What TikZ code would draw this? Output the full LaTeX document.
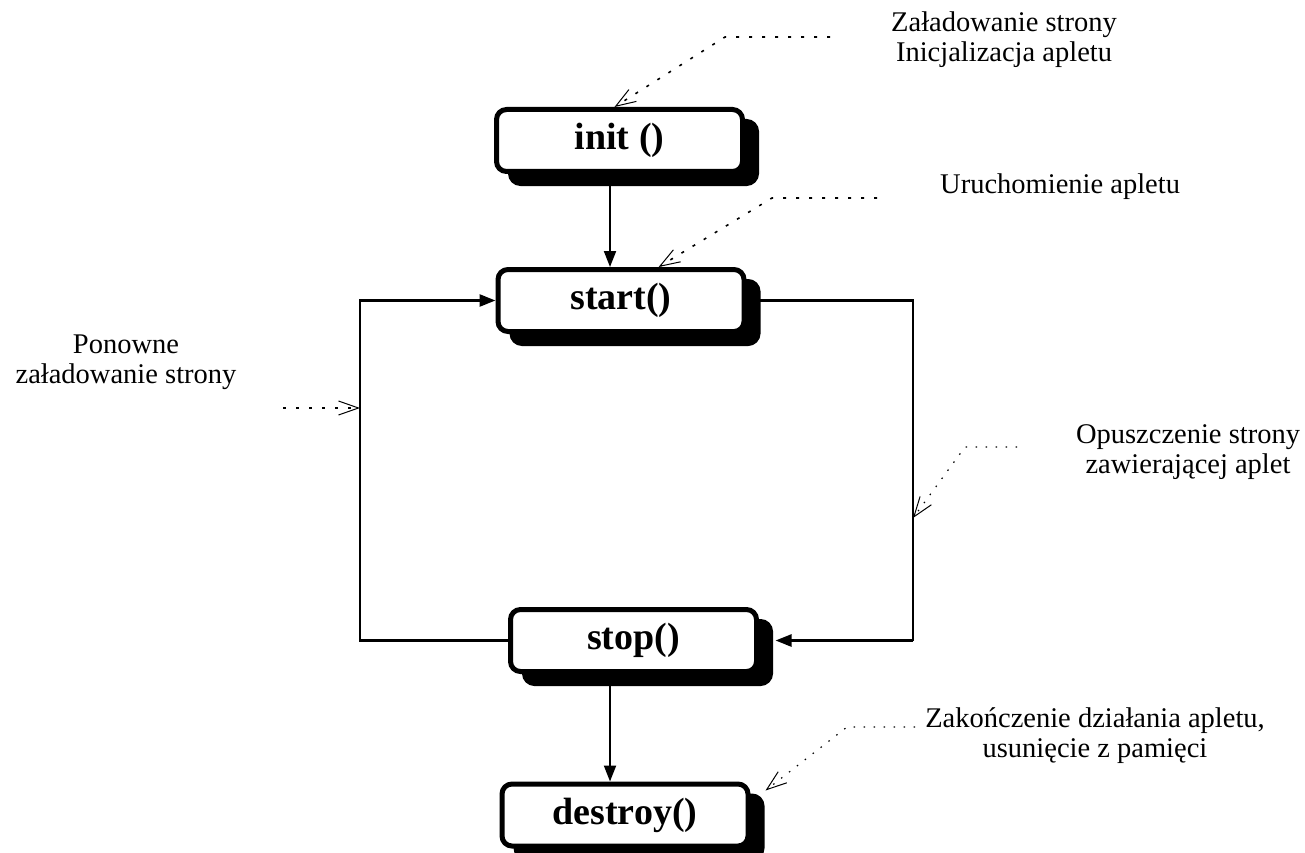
\documentclass[tikz,border=0pt]{standalone}
\usepackage{fontspec}
\setmainfont{Liberation Serif}
\usetikzlibrary{arrows.meta,shadows,backgrounds,calc}
\begin{document}
\begin{tikzpicture}[x=1pt,y=-1pt,
  fn/.style={draw=black, line width=5pt, fill=white, rounded corners=10pt,
    minimum width=246pt, minimum height=62pt, inner sep=0pt,
    font=\fontsize{38}{40}\selectfont\bfseries,
    general shadow={fill=black, draw=black, line width=5pt, shadow xshift=14pt, shadow yshift=-12pt}},
  note/.style={align=center, font=\fontsize{28.5}{30}\selectfont, inner sep=0pt},
  flowtip/.tip={Triangle[length=16pt,width=12pt]},
  flow/.style={line width=2pt, -flowtip},
  looppath/.style={line width=2.5pt},
  hint/.style={line width=1.6pt, dash pattern=on 3pt off 10pt, -{Straight Barb[length=20pt,width=14pt,line width=1pt]}},
  finehint/.style={line width=1.2pt, dash pattern=on 1.5pt off 8.5pt, -{Straight Barb[length=20pt,width=14pt,line width=1pt]}}
]
\useasboundingbox (0,0) rectangle (1305,853);

% function boxes
\node[fn] (init) at (619.5,140.5) {init ()};
\node[fn] (start) at (621,300.5) {start()};
\node[fn] (stop) at (633.5,640.5) {stop()};
\node[fn] (destroy) at (625,815) {destroy()};

% notes
\node[note] (t1) at (1004,40) {Załadowanie strony\\Inicjalizacja apletu};
\node[note, anchor=west] (t2) at (940,187) {Uruchomienie apletu};
\node[note] (t3) at (126,362) {Ponowne\\załadowanie strony};
\node[note] (t4) at (1188,452) {Opuszczenie strony\\zawierającej aplet};
\node[note] (t5) at (1095,736) {Zakończenie działania apletu,\\usunięcie z pamięci};

% helper coordinates
\coordinate (ax) at (610,0);
\coordinate (lx) at (360,0);
\coordinate (rx) at (913,0);
\coordinate (h1a) at (830,37);
\coordinate (h1b) at (725,37);
\coordinate (h2a) at (877,198);
\coordinate (h2b) at (772,198);
\coordinate (h3a) at (283,408);
\coordinate (h3) at (360,408);
\coordinate (h4a) at (1017,447);
\coordinate (h4b) at (965,447);
\coordinate (h4) at (913,518);
\coordinate (h5a) at (915,727);
\coordinate (h5b) at (847,727);

\begin{pgfonlayer}{background}
\draw[flow] (init.south -| ax) -- (start.north -| ax);
\draw[flow] (stop.south -| ax) -- (destroy.north -| ax);
\draw[looppath, -flowtip] (stop.west) -- (stop.west -| lx) -- (start.west -| lx) -- (start.west);
\draw[looppath] (start.east) -- (start.east -| rx) -- (stop.east -| rx);
\end{pgfonlayer}
\draw[looppath, -flowtip] (stop.east -| rx) -- ([xshift=16.5pt]stop.east);

% hint arrows
\draw[hint] (h1a) -- (h1b) -- ($(init.north west)!0.48!(init.north east)$);
\draw[hint] (h2a) -- (h2b) -- ($(start.north west)!0.65!(start.north east)$);
\draw[hint] (h3a) -- (h3);
\draw[finehint] (h4a) -- (h4b) -- (h4);
\draw[finehint] (h5a) -- (h5b) -- ([xshift=15pt,yshift=-9pt]destroy.north east);
\end{tikzpicture}
\end{document}
